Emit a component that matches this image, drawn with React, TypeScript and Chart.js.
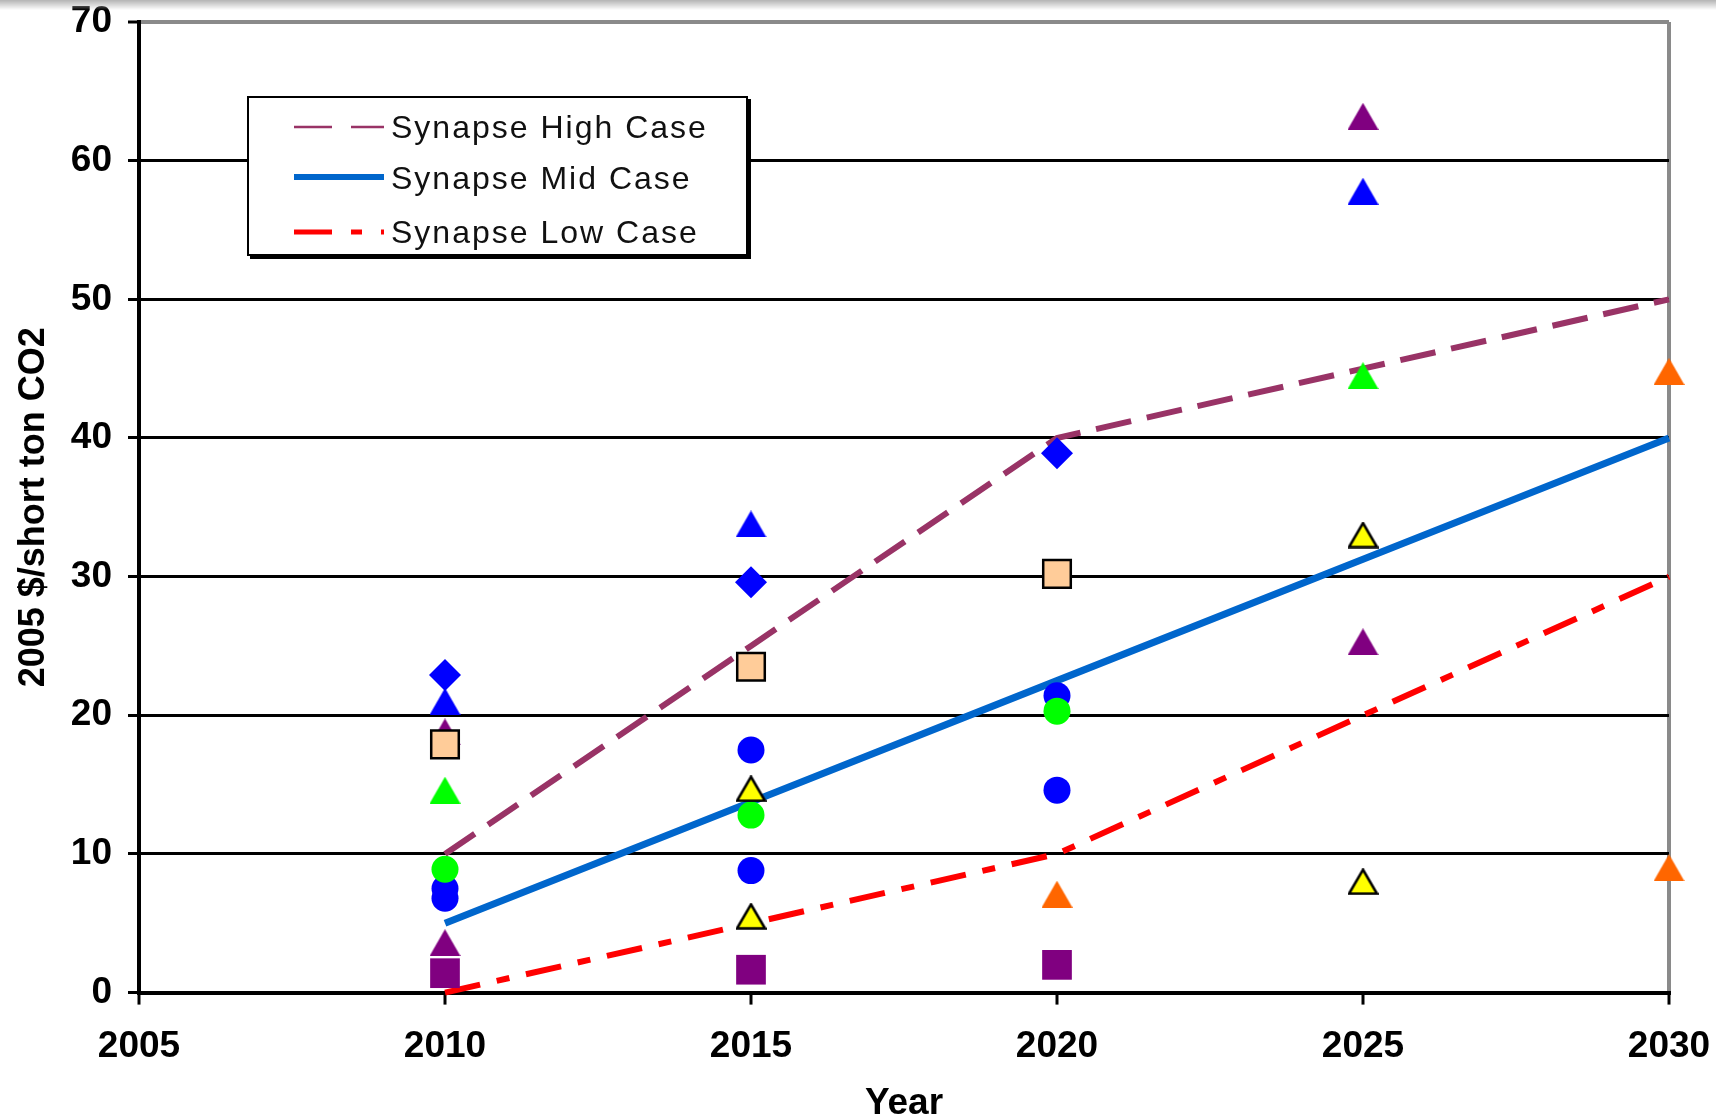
import React, { useEffect, useRef } from 'react';
import { Chart, registerables } from 'chart.js';

Chart.register(...registerables);

// ---------------- data ----------------
const years = [2010, 2015, 2020, 2025, 2030];
const highCase = [10, 25, 40, 45, 50];
const midCase = [5, 13.75, 22.5, 31.25, 40];
const lowCase = [0, 5, 10, 20, 30];
const lineLabels = ['Synapse High Case', 'Synapse Mid Case', 'Synapse Low Case'];

const xTickValues = [2005, 2010, 2015, 2020, 2025, 2030];
const yTickValues = [0, 10, 20, 30, 40, 50, 60, 70];
const xTitle = 'Year';
const yTitle = '2005 $/short ton CO2';

// other forecasts: [year, $/short ton]
const yellowTriangles = [[2015, 14.7], [2015, 5.5], [2025, 33.0], [2025, 8.0]];
const peachSquares = [[2010, 17.9], [2015, 23.5], [2020, 30.2]];
const greenCircles = [[2010, 8.9], [2015, 12.8], [2020, 20.3]];
const greenTriangles = [[2010, 14.6], [2025, 44.5]];
const blueCircles = [[2010, 7.5], [2010, 6.8], [2015, 17.5], [2015, 8.8], [2020, 21.4], [2020, 14.6]];
const blueDiamonds = [[2010, 22.9], [2015, 29.6], [2020, 38.9]];
const blueTriangles = [[2010, 21.0], [2015, 33.8], [2025, 57.8]];
const purpleTriangles = [[2010, 18.8], [2010, 3.6], [2025, 63.2], [2025, 25.3]];
const orangeTriangles = [[2020, 7.1], [2030, 44.8], [2030, 9.0]];
const purpleSquares = [[2010, 1.4], [2015, 1.65], [2020, 2.0]];

// ---------------- styles ----------------
const BOLD = '"Liberation Sans", Arial, sans-serif';
const SANS = '"Liberation Sans", Arial, sans-serif';
const HIGH_COLOR = '#993366';
const MID_COLOR = '#0066CC';
const LOW_COLOR = '#FF0000';

function makeTriangle(fill: string, stroke?: string): HTMLCanvasElement {
  const w = 31;
  const h = 27;
  const c = document.createElement('canvas');
  c.width = w;
  c.height = h;
  const g = c.getContext('2d')!;
  const inset = stroke ? 1.5 : 0;
  g.beginPath();
  g.moveTo(w / 2, inset);
  g.lineTo(w - inset, h - inset);
  g.lineTo(inset, h - inset);
  g.closePath();
  g.fillStyle = fill;
  g.fill();
  if (stroke) {
    g.lineWidth = 2.5;
    g.strokeStyle = stroke;
    g.stroke();
  }
  return c;
}

const toPts = (arr: number[][]) => arr.map(([x, y]) => ({ x, y }));

const legendPlugin = {
  id: 'boxLegend',
  afterDraw(chart: any) {
    const ctx = chart.ctx as CanvasRenderingContext2D;
    ctx.save();
    ctx.fillStyle = '#000';
    ctx.fillRect(250, 99, 501, 160);
    ctx.fillStyle = '#fff';
    ctx.fillRect(247, 96, 501, 160);
    ctx.lineWidth = 2;
    ctx.strokeStyle = '#000';
    ctx.strokeRect(248, 97, 499, 158);

    const items = [
      { label: lineLabels[0], color: HIGH_COLOR, width: 2.5, dash: [38, 19], y: 127, base: 138 },
      { label: lineLabels[1], color: MID_COLOR, width: 6, dash: [], y: 177, base: 189 },
      { label: lineLabels[2], color: LOW_COLOR, width: 5, dash: [38, 19, 11, 19], y: 232, base: 243 },
    ];
    for (const it of items) {
      ctx.beginPath();
      ctx.setLineDash(it.dash);
      ctx.lineCap = 'butt';
      ctx.strokeStyle = it.color;
      ctx.lineWidth = it.width;
      ctx.moveTo(294, it.y);
      ctx.lineTo(384, it.y);
      ctx.stroke();
    }
    ctx.setLineDash([]);
    ctx.fillStyle = '#111';
    ctx.font = `32px ${SANS}`;
    (ctx as any).letterSpacing = '2px';
    ctx.textAlign = 'left';
    ctx.textBaseline = 'alphabetic';
    for (const it of items) {
      ctx.fillText(it.label, 391, it.base);
    }
    ctx.restore();
  },
};

export default function App() {
  const ref = useRef<HTMLCanvasElement | null>(null);

  useEffect(() => {
    if (!ref.current) return;
    const tri = {
      yellow: makeTriangle('#FFFF00', '#000000'),
      green: makeTriangle('#00FF00'),
      blue: makeTriangle('#0000FF'),
      purple: makeTriangle('#800080'),
      orange: makeTriangle('#FF6600'),
    };
    const marker = (data: number[][], extra: any) => ({
      type: 'scatter',
      data: toPts(data),
      showLine: false,
      clip: false,
      pointBorderWidth: 0,
      pointHoverRadius: 0,
      ...extra,
    });
    const line = (label: string, values: number[], color: string, width: number, dash: number[]) => ({
      type: 'scatter',
      label,
      data: years.map((x, i) => ({ x, y: values[i] })),
      showLine: true,
      borderColor: color,
      borderWidth: width,
      borderDash: dash,
      borderCapStyle: 'butt',
      pointRadius: 0,
      pointHoverRadius: 0,
      fill: false,
      tension: 0,
      clip: false,
    });

    const chart = new Chart(ref.current, {
      type: 'scatter',
      data: {
        datasets: [
          marker(yellowTriangles, { pointStyle: tri.yellow, pointRadius: 15 }),
          marker(peachSquares, { pointStyle: 'rect', pointRadius: 19.5, pointBackgroundColor: '#FFCC99', pointBorderColor: '#000', pointBorderWidth: 2.5 }),
          marker(greenCircles, { pointStyle: 'circle', pointRadius: 13.5, pointBackgroundColor: '#00FF00' }),
          marker(greenTriangles, { pointStyle: tri.green, pointRadius: 15 }),
          marker(blueCircles, { pointStyle: 'circle', pointRadius: 13.5, pointBackgroundColor: '#0000FF' }),
          marker(blueDiamonds, { pointStyle: 'rectRot', pointRadius: 16, pointBackgroundColor: '#0000FF' }),
          marker(blueTriangles, { pointStyle: tri.blue, pointRadius: 15 }),
          marker(purpleTriangles, { pointStyle: tri.purple, pointRadius: 15 }),
          marker(orangeTriangles, { pointStyle: tri.orange, pointRadius: 15 }),
          marker(purpleSquares, { pointStyle: 'rect', pointRadius: 21, pointBackgroundColor: '#800080' }),
          line(lineLabels[0], highCase, HIGH_COLOR, 6, [36, 16]),
          line(lineLabels[1], midCase, MID_COLOR, 7, []),
          line(lineLabels[2], lowCase, LOW_COLOR, 6, [36, 17, 13, 17]),
        ] as any,
      },
      options: {
        animation: false,
        responsive: false,
        events: [],
        layout: { padding: { left: 0, top: 18.6, right: 47, bottom: 0 } },
        plugins: { legend: { display: false }, tooltip: { enabled: false }, title: { display: false } },
        scales: {
          x: {
            type: 'linear',
            position: 'bottom',
            min: 2005,
            max: 2030,
            afterBuildTicks: (scale: any) => {
              scale.ticks = xTickValues.map((v) => ({ value: v }));
            },
            afterFit: (scale: any) => {
              scale.height = 1120 - 992.6;
              scale.paddingLeft = 0;
              scale.paddingRight = 0;
            },
            ticks: {
              callback: (v: any) => String(v),
              color: '#000',
              padding: 24,
              maxRotation: 0,
              autoSkip: false,
              font: { family: BOLD, size: 37, weight: 'bold', lineHeight: 1 },
            },
            grid: {
              color: (c: any) => (c.tick && c.tick.value === 2030 ? '#8a8a8a' : 'rgba(0,0,0,0)'),
              lineWidth: 4,
              tickColor: '#000',
              tickWidth: 3,
              tickLength: 12,
              drawTicks: true,
            },
            border: { display: true, color: '#000', width: 4 },
            title: {
              display: true,
              text: xTitle,
              color: '#000',
              font: { family: BOLD, size: 37, weight: 'bold', lineHeight: 0.9 },
              padding: { top: 0, bottom: 0 },
            },
          },
          y: {
            type: 'linear',
            position: 'left',
            min: 0,
            max: 70,
            afterBuildTicks: (scale: any) => {
              scale.ticks = yTickValues.map((v) => ({ value: v }));
            },
            afterFit: (scale: any) => {
              scale.width = 139;
              scale.paddingTop = 0;
              scale.paddingBottom = 0;
            },
            ticks: {
              callback: (v: any) => String(v),
              color: '#000',
              padding: 16,
              font: { family: BOLD, size: 37, weight: 'bold', lineHeight: 1 },
            },
            grid: {
              color: (c: any) => (c.tick && c.tick.value === 70 ? '#8a8a8a' : '#000'),
              lineWidth: (c: any) => (c.tick && c.tick.value === 70 ? 4 : 3),
              tickColor: '#000',
              tickWidth: 3,
              tickLength: 11,
              drawTicks: true,
            },
            border: { display: true, color: '#000', width: 4 },
            title: {
              display: true,
              text: yTitle,
              color: '#000',
              font: { family: BOLD, size: 36, weight: 'bold', lineHeight: 1.2 },
              padding: { top: 12, bottom: 0 },
            },
          },
        },
      } as any,
      plugins: [legendPlugin],
    });
    return () => chart.destroy();
  }, []);

  return (
    <div style={{ position: 'fixed', left: 0, top: 0, width: 1716, height: 1120, background: '#fff' }}>
      <canvas ref={ref} width={1716} height={1120} style={{ display: 'block', width: 1716, height: 1120 }} />
      <div
        style={{
          position: 'absolute',
          left: 0,
          top: 0,
          width: 1716,
          height: 10,
          background: 'linear-gradient(to bottom, #b4b4b4, rgba(255,255,255,0))',
          pointerEvents: 'none',
        }}
      />
    </div>
  );
}
